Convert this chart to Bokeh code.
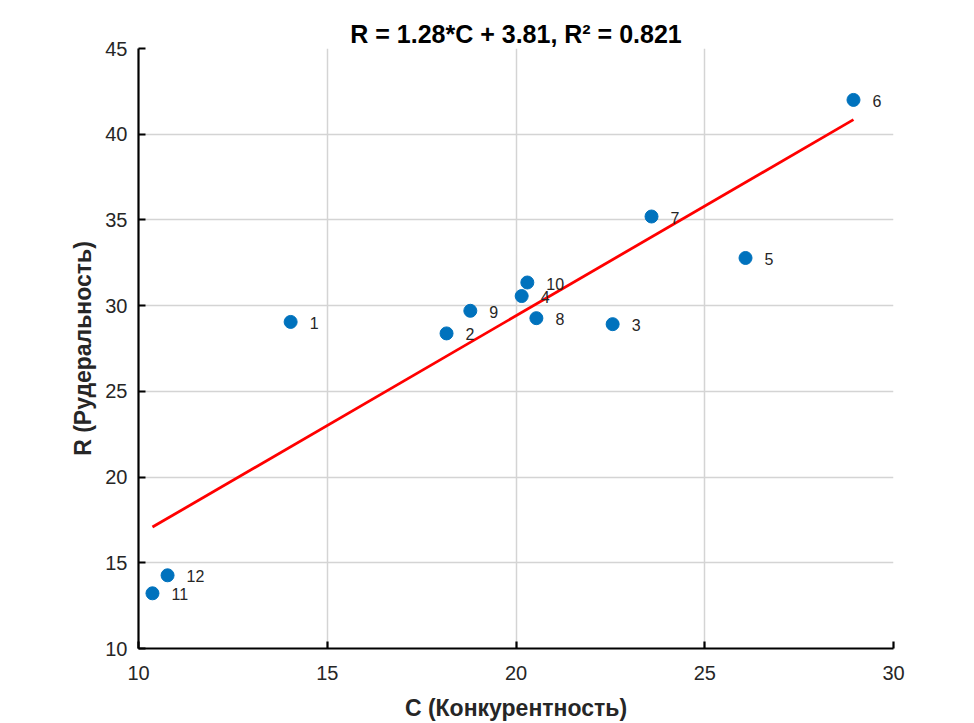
from bokeh.plotting import figure
from bokeh.models import Range1d, ColumnDataSource, FixedTicker, LabelSet
from bokeh.core.properties import value
from bokeh.embed import file_html
from bokeh.resources import INLINE

# Data
point_ids = ["1", "2", "3", "4", "5", "6", "7", "8", "9", "10", "11", "12"]
c_values = [14.03, 18.16, 22.56, 20.15, 26.08, 28.94, 23.59, 20.54, 18.79, 20.30, 10.37, 10.77]
r_values = [29.05, 28.38, 28.92, 30.56, 32.78, 42.0, 35.2, 29.27, 29.7, 31.35, 13.22, 14.27]
slope = 1.28
intercept = 3.81
r_squared = 0.821
x_ticks = [10, 15, 20, 25, 30]
y_ticks = [10, 15, 20, 25, 30, 35, 40, 45]

FONT = "Liberation Sans"
TXT = "#262626"

p = figure(width=950, height=723, output_backend="svg", toolbar_location=None,
           x_range=Range1d(10, 30), y_range=Range1d(10, 45),
           min_border_left=138, min_border_right=57, min_border_top=48, min_border_bottom=75)
p.title.text = f"R = {slope}*C + {intercept}, R\u00b2 = {r_squared}"
p.title.align = "center"
p.title.text_font = FONT
p.title.text_font_size = "25px"
p.title.text_font_style = "bold"
p.title.text_color = "#000000"
p.title.standoff = 1
p.outline_line_color = None
p.background_fill_color = "white"
p.border_fill_color = "white"

for ax, ticks in ((p.xaxis, x_ticks), (p.yaxis, y_ticks)):
    ax.ticker = FixedTicker(ticks=ticks)
    ax.axis_line_color = "#000000"
    ax.axis_line_width = 2.2
    ax.major_tick_line_color = "#000000"
    ax.major_tick_line_width = 2.2
    ax.major_tick_in = 7
    ax.major_tick_out = 0
    ax.minor_tick_line_color = None
    ax.major_label_text_font = FONT
    ax.major_label_text_font_size = "20px"
    ax.major_label_text_color = TXT
    ax.axis_label_text_font = FONT
    ax.axis_label_text_font_size = "23px"
    ax.axis_label_text_font_style = "bold"
    ax.axis_label_text_color = TXT

p.xaxis.axis_label = "C (Конкурентность)"
p.yaxis.axis_label = "R (Рудеральность)"
p.xaxis.major_label_standoff = 17
p.xaxis.axis_label_standoff = 12
p.yaxis.major_label_standoff = 11
p.yaxis.axis_label_standoff = 6

p.grid.grid_line_color = "#d4d4d4"
p.grid.grid_line_width = 1.5
p.xgrid.ticker = FixedTicker(ticks=x_ticks)
p.ygrid.ticker = FixedTicker(ticks=y_ticks)

# Fit line from stated coefficients, spanning data range
x0, x1 = min(c_values), max(c_values)
p.line([x0, x1], [slope * x0 + intercept, slope * x1 + intercept],
       line_color="#ff0000", line_width=2.8)

src = ColumnDataSource(dict(c=c_values, r=r_values, lab=point_ids))
p.scatter("c", "r", source=src, size=13, fill_color="#0072BD", line_color="#0072BD")

labels = LabelSet(x="c", y="r", text="lab", source=src, x_offset=19, y_offset=-1,
                  text_font=value(FONT), text_font_size="16px", text_color=TXT,
                  text_baseline="middle", text_align="left")
p.add_layout(labels)

open("out.html", "w").write(file_html(p, INLINE))
